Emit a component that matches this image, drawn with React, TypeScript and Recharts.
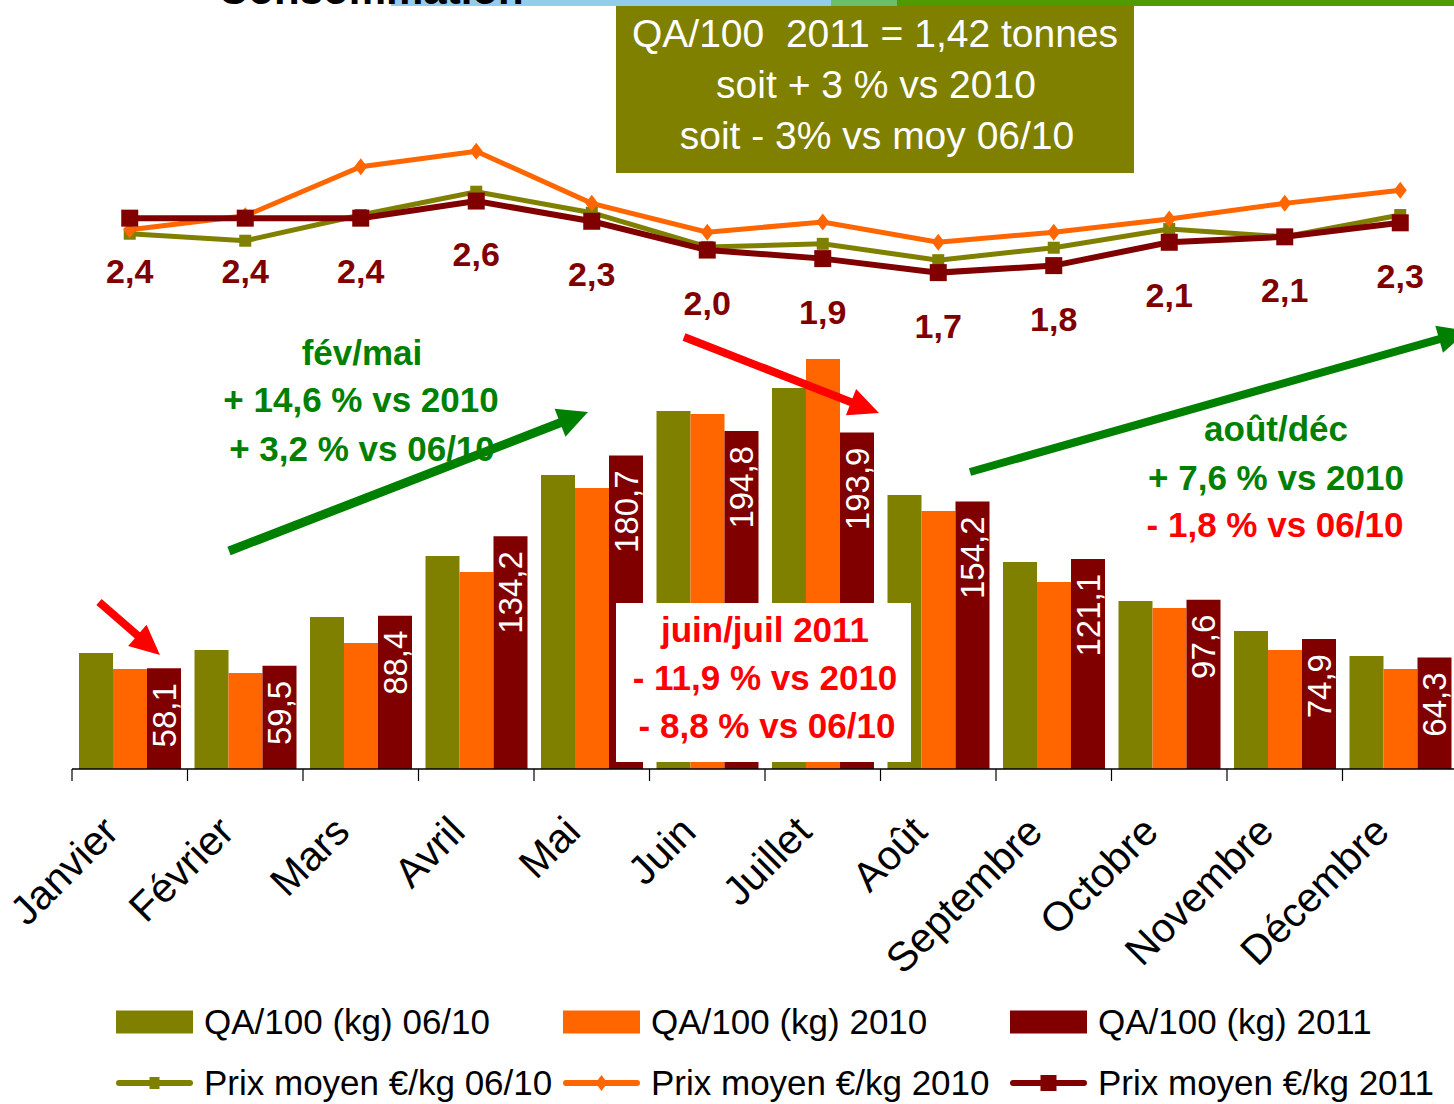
import React from 'react'
import {
  ComposedChart,
  Bar,
  Line,
  XAxis,
  YAxis,
  Legend,
  LabelList,
} from 'recharts'

const months = ['Janvier', 'Février', 'Mars', 'Avril', 'Mai', 'Juin', 'Juillet', 'Août', 'Septembre', 'Octobre', 'Novembre', 'Décembre']

// QA/100 (kg)
const qa0610 = [66.9, 68.6, 87.6, 122.8, 169.5, 206.3, 219.6, 157.9, 119.3, 96.8, 79.5, 65.1]
const qa2010 = [57.6, 55.3, 72.6, 113.5, 162.0, 204.6, 236.3, 148.7, 107.8, 92.8, 68.6, 57.6]
const qa2011 = [58.1, 59.5, 88.4, 134.2, 180.7, 194.8, 193.9, 154.2, 121.1, 97.6, 74.9, 64.3]

// Prix moyen €/kg
const prix0610 = [2.18, 2.09, 2.42, 2.72, 2.45, 2.01, 2.05, 1.84, 2.0, 2.24, 2.14, 2.42]
const prix2010 = [2.23, 2.41, 3.04, 3.24, 2.57, 2.2, 2.33, 2.07, 2.2, 2.37, 2.57, 2.74]
const prix2011 = [2.38, 2.38, 2.38, 2.6, 2.34, 1.97, 1.86, 1.68, 1.77, 2.07, 2.14, 2.32]

const seriesNames = {
  qa0610: 'QA/100 (kg) 06/10',
  qa2010: 'QA/100 (kg) 2010',
  qa2011: 'QA/100 (kg) 2011',
  prix0610: 'Prix moyen €/kg 06/10',
  prix2010: 'Prix moyen €/kg 2010',
  prix2011: 'Prix moyen €/kg 2011',
}
const legendOrder = ['qa0610', 'qa2010', 'qa2011', 'prix0610', 'prix2010', 'prix2011']

const data = months.map((month, i) => ({
  month,
  qa0610: qa0610[i],
  qa2010: qa2010[i],
  qa2011: qa2011[i],
  prix0610: prix0610[i],
  prix2010: prix2010[i],
  prix2011: prix2011[i],
}))

const OLIVE = '#808000'
const ORANGE = '#FF6600'
const MAROON = '#800000'
const GREEN = '#008000'
const RED = '#FF0000'
const FONT = "'Liberation Sans', Arial, Helvetica, sans-serif"

const CHART_W = 1458
const CHART_H = 1104
const PLOT_LEFT = 72
const HALF_BAND = (CHART_W - PLOT_LEFT) / months.length / 2

const fmt = (v: number) => v.toFixed(1).replace('.', ',')

function MonthTick(props: any) {
  const { x, y, payload } = props
  return (
    <g>
      <line x1={x - HALF_BAND} y1={y} x2={x - HALF_BAND} y2={y + 12} stroke="#000" strokeWidth={1.2} />
      <text
        transform={`translate(${x - 9},${y + 65}) rotate(-45)`}
        textAnchor="end"
        fontSize={41}
        fontFamily={FONT}
        fill="#000"
      >
        {payload.value}
      </text>
    </g>
  )
}

function BarValue(props: any) {
  const { x, y, width, value } = props
  return (
    <text
      transform={`translate(${x + width / 2},${y + 15}) rotate(-90)`}
      textAnchor="end"
      dominantBaseline="central"
      fill="#fff"
      fontSize={33}
      fontFamily={FONT}
    >
      {fmt(value)}
    </text>
  )
}

function PriceValue(props: any) {
  const { x, y, value } = props
  return (
    <text
      x={x}
      y={y + 53}
      textAnchor="middle"
      dominantBaseline="central"
      fill={MAROON}
      fontSize={34}
      fontWeight="bold"
      fontFamily={FONT}
    >
      {fmt(value)}
    </text>
  )
}

const squareDot = (size: number, color: string) => (p: any) =>
  p.cx == null ? (
    <g key={p.index} />
  ) : (
    <rect key={p.index} x={p.cx - size / 2} y={p.cy - size / 2} width={size} height={size} fill={color} />
  )

const diamondDot = (w: number, h: number, color: string) => (p: any) =>
  p.cx == null ? (
    <g key={p.index} />
  ) : (
    <polygon
      key={p.index}
      points={`${p.cx},${p.cy - h / 2} ${p.cx + w / 2},${p.cy} ${p.cx},${p.cy + h / 2} ${p.cx - w / 2},${p.cy}`}
      fill={color}
    />
  )

function Arrow({ x1, y1, x2, y2, color, width, head, headW }: any) {
  const len = Math.hypot(x2 - x1, y2 - y1)
  const ux = (x2 - x1) / len
  const uy = (y2 - y1) / len
  const bx = x2 - ux * head
  const by = y2 - uy * head
  const px = -uy
  const py = ux
  return (
    <g>
      <line x1={x1} y1={y1} x2={bx + ux * 3} y2={by + uy * 3} stroke={color} strokeWidth={width} />
      <polygon
        points={`${x2},${y2} ${bx + px * headW},${by + py * headW} ${bx - px * headW},${by - py * headW}`}
        fill={color}
      />
    </g>
  )
}

function Note({ x, y, color, size = 35, bold = true, children }: any) {
  return (
    <text
      x={x}
      y={y}
      textAnchor="middle"
      dominantBaseline="central"
      fill={color}
      fontSize={size}
      fontWeight={bold ? 'bold' : 'normal'}
      fontFamily={FONT}
      style={{ whiteSpace: 'pre' }}
    >
      {children}
    </text>
  )
}

// slide annotations, drawn on top of the chart
function Annotations() {
  return (
    <svg
      width={1454}
      height={1104}
      style={{ position: 'absolute', left: 0, top: 0, pointerEvents: 'none' }}
    >
      {/* slide header remnants */}
      <rect x={391} y={0} width={440} height={6} fill="#93CDEC" />
      <rect x={831} y={0} width={66} height={6} fill="#6BBE6B" />
      <rect x={897} y={0} width={561} height={6} fill="#4E9B00" />
      <text x={218} y={4} fontSize={42} fontWeight="bold" fontFamily={FONT} fill="#000">
        Consommation
      </text>

      {/* olive summary box */}
      <rect x={616} y={6} width={518} height={167} fill={OLIVE} />
      <Note x={875} y={33} color="#fff" size={39} bold={false}>QA/100  2011 = 1,42 tonnes</Note>
      <Note x={876} y={84} color="#fff" size={39} bold={false}>soit + 3 % vs 2010</Note>
      <Note x={877} y={135} color="#fff" size={39} bold={false}>soit - 3% vs moy 06/10</Note>

      {/* fév/mai */}
      <Note x={362} y={352} color={GREEN}>fév/mai</Note>
      <Note x={361} y={399} color={GREEN}>+ 14,6 % vs 2010</Note>
      <Note x={362} y={448} color={GREEN}>+ 3,2 % vs 06/10</Note>
      <Arrow x1={229} y1={551} x2={588} y2={412} color={GREEN} width={9} head={30} headW={15} />

      {/* juin/juil */}
      <Arrow x1={684} y1={337} x2={879} y2={413} color={RED} width={8} head={30} headW={14} />
      <rect x={616} y={603} width={295} height={159} fill="#fff" />
      <Note x={765} y={629} color={RED}>juin/juil 2011</Note>
      <Note x={765} y={677} color={RED}>- 11,9 % vs 2010</Note>
      <Note x={767} y={725} color={RED}>- 8,8 % vs 06/10</Note>

      {/* janvier */}
      <Arrow x1={99} y1={602} x2={160} y2={655} color={RED} width={8} head={30} headW={14} />

      {/* août/déc */}
      <Arrow x1={970} y1={472} x2={1468} y2={331} color={GREEN} width={8} head={30} headW={14} />
      <Note x={1276} y={428} color={GREEN}>août/déc</Note>
      <Note x={1276} y={477} color={GREEN}>+ 7,6 % vs 2010</Note>
      <Note x={1275} y={524} color={RED}>- 1,8 % vs 06/10</Note>
    </svg>
  )
}

const legendColors: Record<string, string> = {
  qa0610: OLIVE,
  qa2010: ORANGE,
  qa2011: MAROON,
  prix0610: OLIVE,
  prix2010: ORANGE,
  prix2011: MAROON,
}

function LegendSwatch({ k }: { k: string }) {
  const c = legendColors[k]
  if (k.startsWith('qa')) {
    return (
      <svg width={77} height={40}>
        <rect x={0} y={8.5} width={77} height={23} fill={c} />
      </svg>
    )
  }
  return (
    <svg width={77} height={40}>
      <line x1={3} y1={20} x2={74} y2={20} stroke={c} strokeWidth={6} strokeLinecap="round" />
      {k === 'prix0610' && <rect x={33.5} y={14} width={10} height={12} fill={c} />}
      {k === 'prix2010' && <polygon points="38.5,12 44.5,20 38.5,28 32.5,20" fill={c} />}
      {k === 'prix2011' && <rect x={30.5} y={12} width={16} height={16} fill={c} />}
    </svg>
  )
}

function LegendContent() {
  return (
    <div style={{ position: 'relative', width: 1454, height: 114, fontFamily: FONT }}>
      {legendOrder.map((k, i) => {
        const row = i < 3 ? 0 : 1
        const col = i % 3
        return (
          <div
            key={k}
            style={{
              position: 'absolute',
              left: 116 + col * 447,
              top: (row === 0 ? 32 : 93) - 20,
              height: 40,
              display: 'flex',
              alignItems: 'center',
              whiteSpace: 'nowrap',
            }}
          >
            <LegendSwatch k={k} />
            <span style={{ marginLeft: 11, fontSize: 35, color: '#000', lineHeight: '40px' }}>
              {(seriesNames as any)[k]}
            </span>
          </div>
        )
      })}
    </div>
  )
}

export default function App() {
  return (
    <div style={{ position: 'absolute', left: 0, top: 0, width: 1454, height: 1104, overflow: 'hidden', background: '#fff' }}>
      <ComposedChart
        width={CHART_W}
        height={CHART_H}
        data={data}
        margin={{ top: 75, right: 0, left: PLOT_LEFT, bottom: 0 }}
        barCategoryGap={7}
        barGap={0}
      >
        <XAxis
          dataKey="month"
          height={335}
          tickSize={0}
          tickMargin={0}
          tickLine={false}
          axisLine={{ stroke: '#000', strokeWidth: 1.5 }}
          tick={<MonthTick />}
          interval={0}
        />
        <YAxis yAxisId="qa" domain={[0, 400]} hide />
        <YAxis yAxisId="prix" orientation="right" domain={[-4.7, 4.22]} hide />
        <Bar yAxisId="qa" dataKey="qa0610" name={seriesNames.qa0610} fill={OLIVE} isAnimationActive={false} />
        <Bar yAxisId="qa" dataKey="qa2010" name={seriesNames.qa2010} fill={ORANGE} isAnimationActive={false} />
        <Bar yAxisId="qa" dataKey="qa2011" name={seriesNames.qa2011} fill={MAROON} isAnimationActive={false}>
          <LabelList dataKey="qa2011" content={<BarValue />} />
        </Bar>
        <Line
          yAxisId="prix"
          dataKey="prix0610"
          name={seriesNames.prix0610}
          stroke={OLIVE}
          strokeWidth={5}
          dot={squareDot(12, OLIVE)}
          isAnimationActive={false}
        />
        <Line
          yAxisId="prix"
          dataKey="prix2010"
          name={seriesNames.prix2010}
          stroke={ORANGE}
          strokeWidth={5}
          dot={diamondDot(13, 17, ORANGE)}
          isAnimationActive={false}
        />
        <Line
          yAxisId="prix"
          dataKey="prix2011"
          name={seriesNames.prix2011}
          stroke={MAROON}
          strokeWidth={6}
          dot={squareDot(17, MAROON)}
          isAnimationActive={false}
        >
          <LabelList dataKey="prix2011" content={<PriceValue />} />
        </Line>
        <Legend
          verticalAlign="middle"
          layout="horizontal"
          content={<LegendContent />}
          wrapperStyle={{ top: 990, left: 0, width: 1454 }}
        />
      </ComposedChart>
      <Annotations />
    </div>
  )
}
